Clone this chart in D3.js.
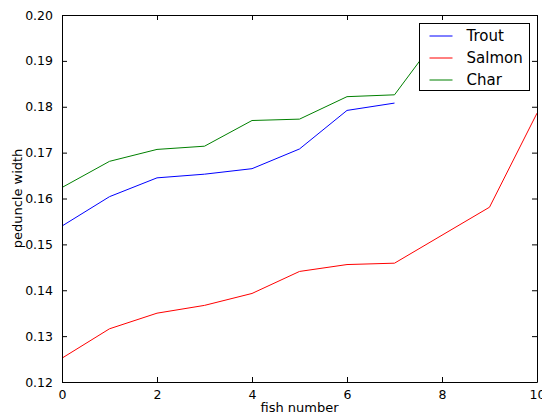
<!DOCTYPE html>
<html>
<head>
<meta charset="utf-8">
<script src="https://cdn.jsdelivr.net/npm/d3@7"></script>
<style>
  body { margin: 0; background: #fff; }
  svg, svg text { font-family: "DejaVu Sans", sans-serif; }
  .axis path { stroke: #000; stroke-width: 1; }
  .axis line { stroke: #000; }
  .axis text { font-size: 12.5px; fill: #000; font-family: "DejaVu Sans", sans-serif; }
</style>
</head>
<body>
<div id="container"></div>
<script>
/* CONSTANTS AND GLOBALS */
const width = 542
const height = 417
const margin = { top: 15, bottom: 35, left: 62, right: 5 }

// series values, index = fish number
const trout = [0.1540, 0.1604, 0.1645, 0.1653, 0.1665, 0.1708, 0.1792, 0.1808]
const salmon = [0.1252, 0.1316, 0.1350, 0.1367, 0.1393, 0.1441, 0.1456, 0.1459, 0.1520, 0.1581, 0.1786]
const charr = [0.1624, 0.1681, 0.1707, 0.1714, 0.1770, 0.1773, 0.1822, 0.1826, 0.1965]

const xTicks = [0, 2, 4, 6, 8, 10]
const yTicks = [0.12, 0.13, 0.14, 0.15, 0.16, 0.17, 0.18, 0.19, 0.20]

const series = [
  { name: "Trout", values: trout, color: "#0000ff" },
  { name: "Salmon", values: salmon, color: "#ff0000" },
  { name: "Char", values: charr, color: "#008000" },
]

// SCALES
const xScale = d3.scaleLinear()
  .domain([0, 10])
  .range([margin.left, width - margin.right])

const yScale = d3.scaleLinear()
  .domain([0.12, 0.20])
  .range([height - margin.bottom, margin.top])

// CREATE SVG ELEMENT
const svg = d3.select("#container")
  .append("svg")
  .attr("width", width)
  .attr("height", height)

svg.append("clipPath").attr("id", "clip")
  .append("rect")
  .attr("x", margin.left).attr("y", margin.top)
  .attr("width", width - margin.left - margin.right)
  .attr("height", height - margin.top - margin.bottom)

// LINES
const line = d3.line()
  .x((d, i) => xScale(i))
  .y(d => yScale(d))

svg.append("g").attr("clip-path", "url(#clip)")
  .selectAll(".line")
  .data(series)
  .join("path")
  .attr("class", "line")
  .attr("fill", "none")
  .attr("stroke", d => d.color)
  .attr("stroke-width", 1)
  .attr("d", d => line(d.values))

// AXES (matplotlib classic: ticks inside, on all four sides)
const fmtY = d3.format(".2f")

svg.append("g")
  .attr("class", "axis")
  .attr("transform", `translate(0, ${height - margin.bottom})`)
  .call(d3.axisBottom(xScale).tickValues(xTicks).tickFormat(d3.format("d")).tickSizeInner(-5).tickSizeOuter(0).tickPadding(8))

svg.append("g")
  .attr("class", "axis")
  .attr("transform", `translate(0, ${margin.top})`)
  .call(d3.axisTop(xScale).tickValues(xTicks).tickFormat("").tickSizeInner(-5).tickSizeOuter(0))

svg.append("g")
  .attr("class", "axis")
  .attr("transform", `translate(${margin.left}, 0)`)
  .call(d3.axisLeft(yScale).tickValues(yTicks).tickFormat(fmtY).tickSizeInner(-5).tickSizeOuter(0).tickPadding(9))

svg.append("g")
  .attr("class", "axis")
  .attr("transform", `translate(${width - margin.right}, 0)`)
  .call(d3.axisRight(yScale).tickValues(yTicks).tickFormat("").tickSizeInner(-5).tickSizeOuter(0))

// AXIS LABELS
svg.append("text")
  .attr("x", (margin.left + width - margin.right) / 2)
  .attr("y", height - 5)
  .attr("text-anchor", "middle")
  .attr("font-size", "13px")
  .text("fish number")

svg.append("text")
  .attr("transform", `translate(22, ${(margin.top + height - margin.bottom) / 2}) rotate(-90)`)
  .attr("text-anchor", "middle")
  .attr("font-size", "13px")
  .text("peduncle width")

// LEGEND
const legend = svg.append("g").attr("transform", "translate(419.5, 23.5)")

legend.append("rect")
  .attr("width", 110)
  .attr("height", 67)
  .attr("fill", "#fff")
  .attr("stroke", "#000")

const rows = legend.selectAll(".row")
  .data(series)
  .join("g")
  .attr("class", "row")
  .attr("transform", (d, i) => `translate(0, ${12.5 + i * 22})`)

rows.append("line")
  .attr("x1", 10).attr("x2", 33)
  .attr("stroke", d => d.color)

rows.append("text")
  .attr("x", 47)
  .attr("dy", "0.35em")
  .attr("font-size", "15px")
  .text(d => d.name)
</script>
</body>
</html>
